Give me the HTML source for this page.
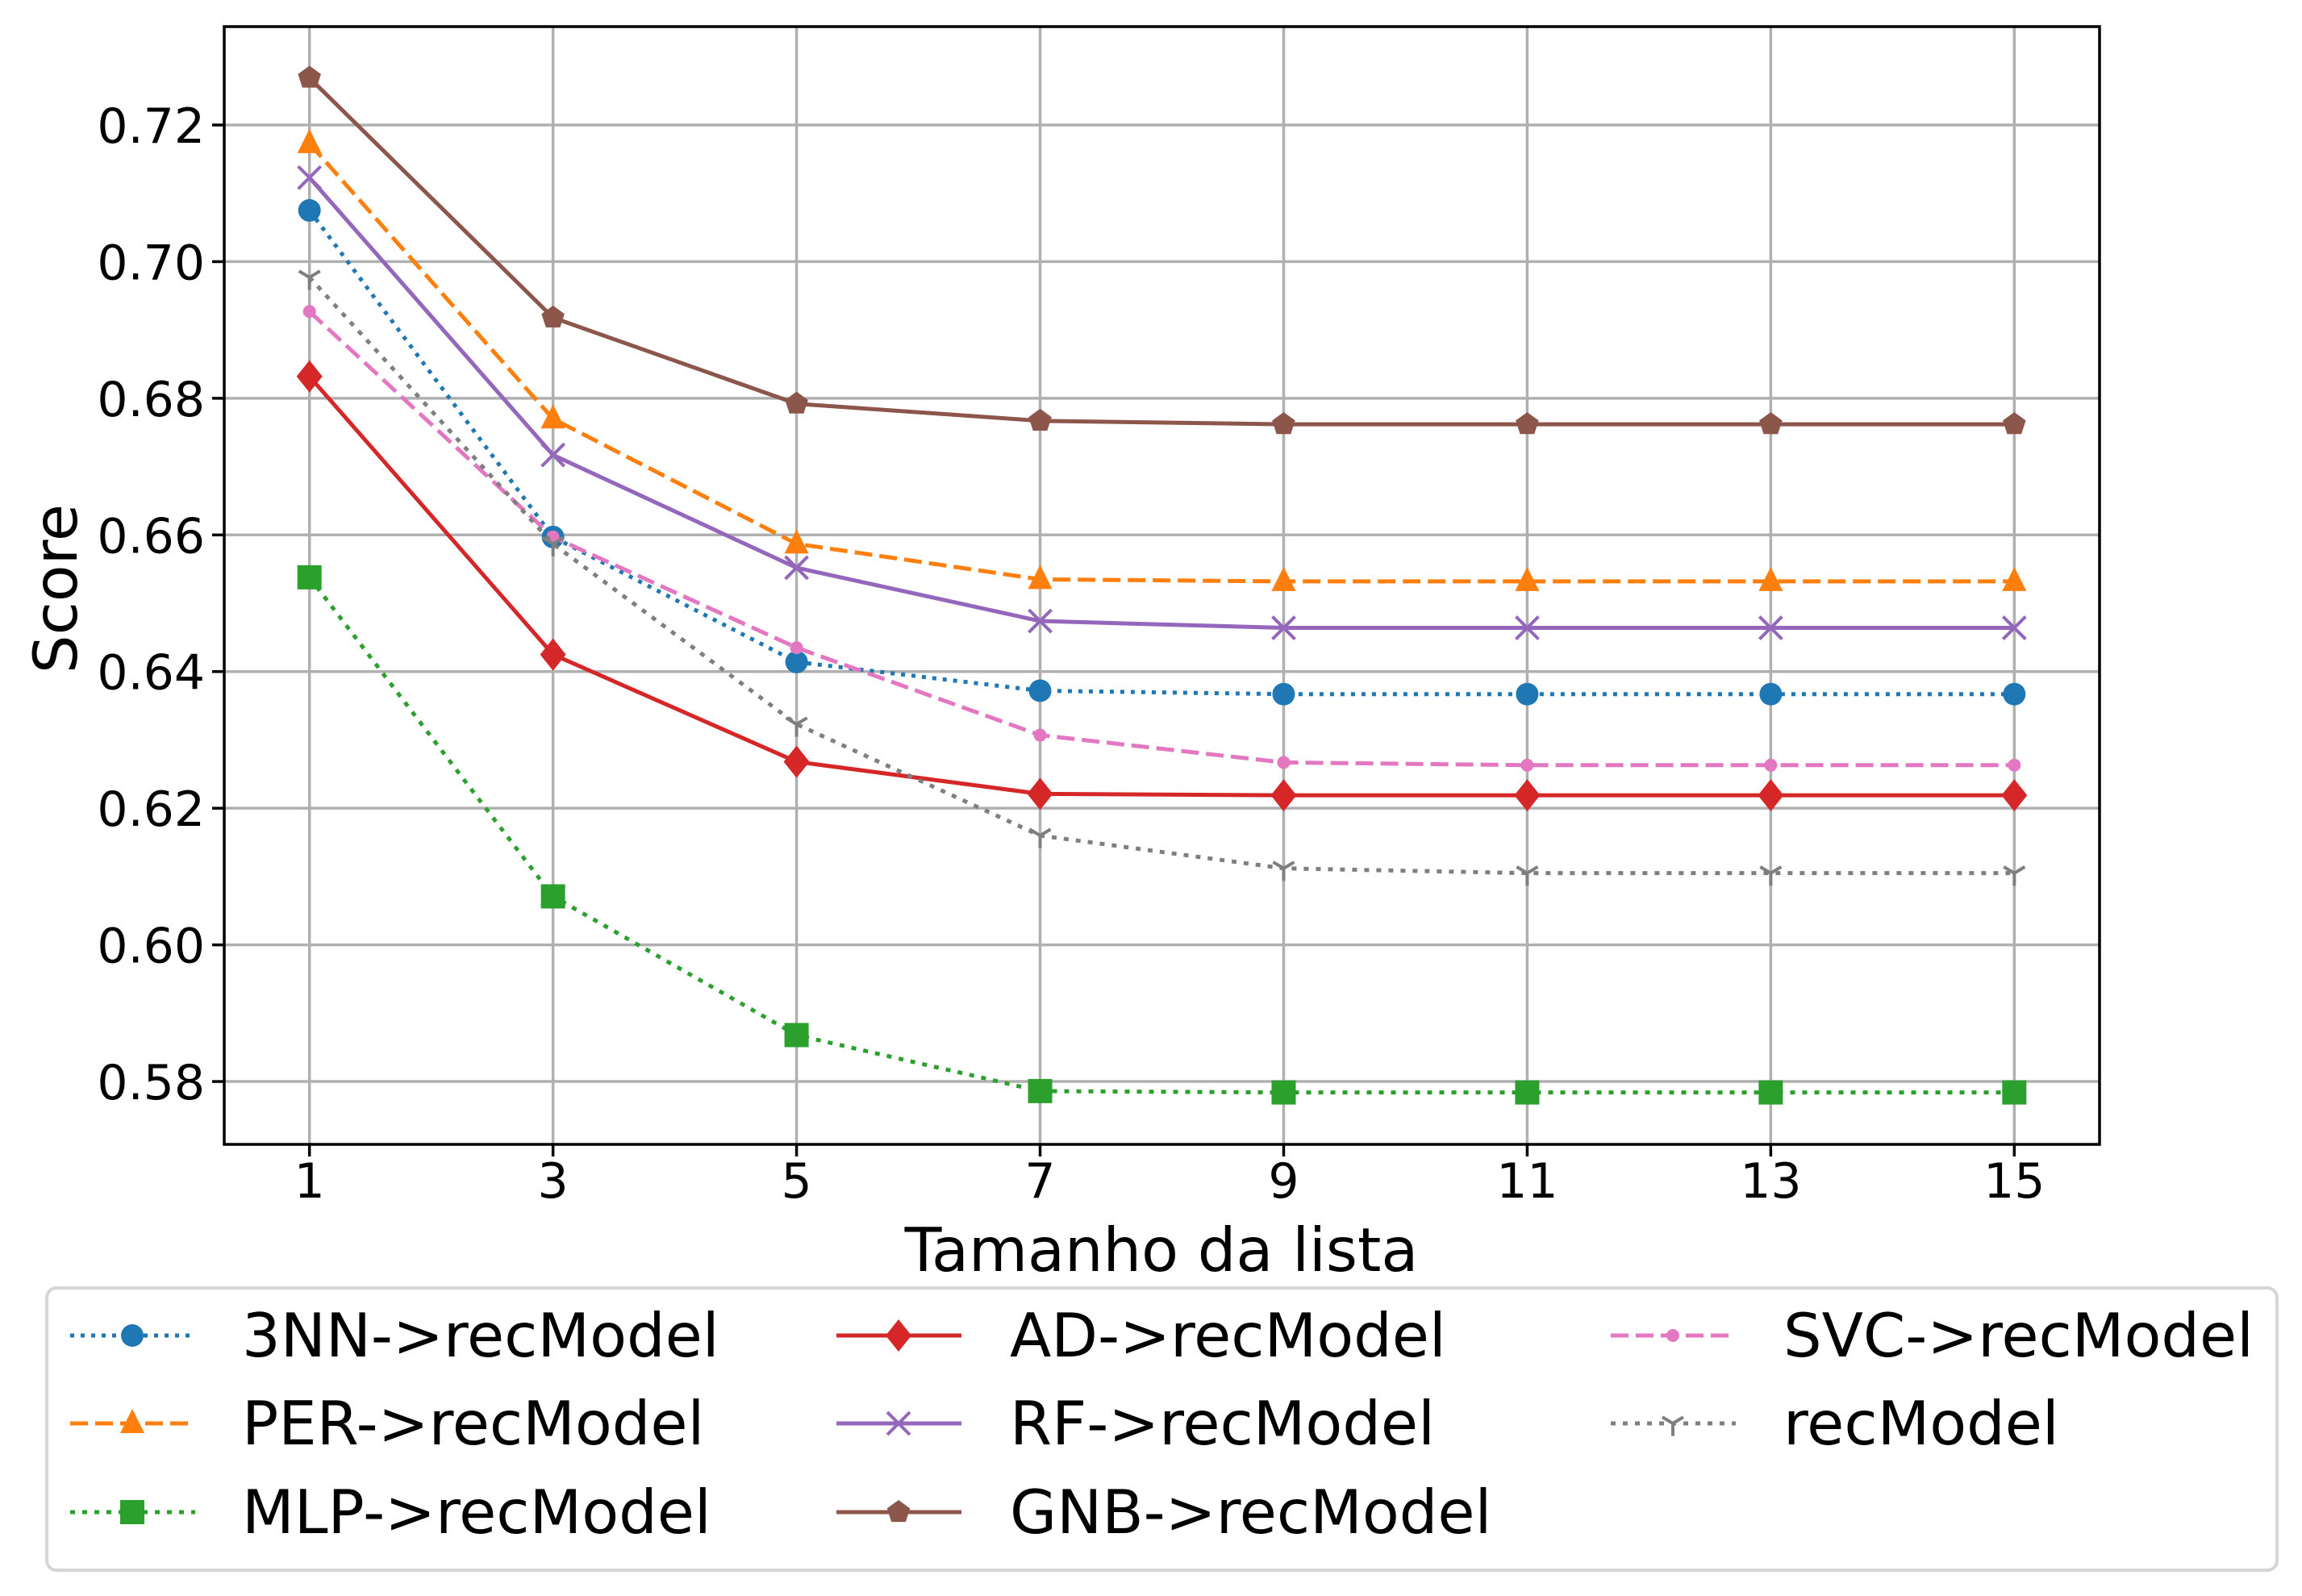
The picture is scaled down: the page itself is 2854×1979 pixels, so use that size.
<!DOCTYPE html>
<html><head><meta charset="utf-8"><style>
html,body{margin:0;padding:0;background:#fff;}
svg{display:block;font-family:"DejaVu Sans","Liberation Sans",sans-serif;}
</style></head><body>
<svg id="chart" width="2854" height="1979" viewBox="0 0 2854 1979" xmlns="http://www.w3.org/2000/svg">
<g id="grid"></g>
<g id="series"></g>
<rect x="278" y="33" width="2325" height="1386" fill="none" stroke="#000" stroke-width="3.5"/>
<g id="ticks"></g>
<text x="1440" y="1576" font-size="75" text-anchor="middle">Tamanho da lista</text>
<text x="95" y="730" font-size="75" text-anchor="middle" transform="rotate(-90 95 730)">Score</text>
<rect x="58" y="1597" width="2765" height="350" rx="12" fill="#fff" stroke="#d5d5d5" stroke-width="4"/>
<g id="legend"></g>
</svg>
<script>
const xCats = [1,3,5,7,9,11,13,15];
const yTicks = [0.58,0.60,0.62,0.64,0.66,0.68,0.70,0.72];
const yTickLabels = ["0.58","0.60","0.62","0.64","0.66","0.68","0.70","0.72"];
const seriesNames = ["3NN->recModel","PER->recModel","MLP->recModel","AD->recModel","RF->recModel","GNB->recModel","SVC->recModel","recModel"];
const v3NN = [0.7075,0.6597,0.6414,0.6372,0.6367,0.6367,0.6367,0.6367];
const vPER = [0.7173,0.6770,0.6587,0.6535,0.6532,0.6532,0.6532,0.6532];
const vMLP = [0.6538,0.6071,0.5868,0.5786,0.5784,0.5784,0.5784,0.5784];
const vAD  = [0.6832,0.6425,0.6268,0.6221,0.6219,0.6219,0.6219,0.6219];
const vRF  = [0.7123,0.6717,0.6552,0.6474,0.6464,0.6464,0.6464,0.6464];
const vGNB = [0.7269,0.6918,0.6792,0.6767,0.6762,0.6762,0.6762,0.6762];
const vSVC = [0.6927,0.6597,0.6435,0.6307,0.6267,0.6263,0.6263,0.6263];
const vRec = [0.6977,0.6587,0.6323,0.6160,0.6112,0.6105,0.6105,0.6105];

const NS="http://www.w3.org/2000/svg";
const L=278,R=2603,T=33,B=1419;
const xMin=0.3,xMax=15.7,yMin=0.5708,yMax=0.7344;
function xs(v){return L+(v-xMin)/(xMax-xMin)*(R-L);}
function ys(v){return B-(v-yMin)/(yMax-yMin)*(B-T);}
function mk(tag,attrs,parent){const e=document.createElementNS(NS,tag);for(const k in attrs)e.setAttribute(k,attrs[k]);parent.appendChild(e);return e;}
const grid=document.getElementById('grid'),ticks=document.getElementById('ticks'),ser=document.getElementById('series'),leg=document.getElementById('legend');

xCats.forEach(c=>{
  const x=xs(c);
  const g=mk('line',{x1:x,x2:x,y1:T,y2:B,stroke:'#b0b0b0','stroke-width':3.5},grid);
  
  
  const t=mk('line',{x1:x,x2:x,y1:B,y2:B+15,stroke:'#000','stroke-width':3.5},ticks);
  
  
  const lb=mk('text',{x:x,y:B+66,'font-size':60,'text-anchor':'middle'},ticks);
  lb.textContent=String(c);
  
  
});
yTicks.forEach((v,i)=>{
  const y=ys(v);
  const g=mk('line',{x1:L,x2:R,y1:y,y2:y,stroke:'#b0b0b0','stroke-width':3.5},grid);
  
  
  const t=mk('line',{x1:L-15,x2:L,y1:y,y2:y,stroke:'#000','stroke-width':3.5},ticks);
  
  
  const lb=mk('text',{x:L-24,y:y+22,'font-size':60,'text-anchor':'end'},ticks);
  lb.textContent=yTickLabels[i];
  
  
});

const styles=[
 {vals:v3NN,color:'#1f77b4',dash:'5,8',m:'circle',ms:14},
 {vals:vPER,color:'#ff7f0e',dash:'22,9',m:'tri',ms:15},
 {vals:vMLP,color:'#2ca02c',dash:'6,9',m:'square',ms:15},
 {vals:vAD,color:'#d62728',dash:'',m:'diamond',ms:20},
 {vals:vRF,color:'#9467bd',dash:'',m:'x',ms:14},
 {vals:vGNB,color:'#8c564b',dash:'',m:'pent',ms:15},
 {vals:vSVC,color:'#e377c2',dash:'22,9',m:'smallcircle',ms:8},
 {vals:vRec,color:'#7f7f7f',dash:'6,9',m:'tri_down',ms:13}
];
function marker(p,s,x,y){
  const c=s.color,r=s.ms;let e;
  if(s.m==='circle'||s.m==='smallcircle') e=mk('circle',{cx:x,cy:y,r:r,fill:c},p);
  else if(s.m==='square') e=mk('rect',{x:x-r,y:y-r,width:2*r,height:2*r,fill:c},p);
  else if(s.m==='tri') e=mk('polygon',{points:`${x},${y-r*1.2} ${x-r},${y+r*0.8} ${x+r},${y+r*0.8}`,fill:c},p);
  else if(s.m==='diamond') e=mk('polygon',{points:`${x},${y-r} ${x+r*0.8},${y} ${x},${y+r} ${x-r*0.8},${y}`,fill:c},p);
  else if(s.m==='pent'){let pts=[];for(let k=0;k<5;k++){const a=-Math.PI/2+k*2*Math.PI/5;pts.push((x+r*Math.cos(a))+','+(y+r*Math.sin(a)));}e=mk('polygon',{points:pts.join(' '),fill:c},p);}
  else if(s.m==='x') e=mk('path',{d:`M${x-r},${y-r}L${x+r},${y+r}M${x-r},${y+r}L${x+r},${y-r}`,stroke:c,'stroke-width':4,fill:'none'},p);
  else if(s.m==='tri_down') e=mk('path',{d:`M${x},${y}L${x},${y+r*1.2}M${x},${y}L${x-r},${y-r*0.6}M${x},${y}L${x+r},${y-r*0.6}`,stroke:c,'stroke-width':4,fill:'none'},p);
  return e;
}
styles.forEach((s,i)=>{
  const g=mk('g',{},ser);
  
  
  const pts=s.vals.map((v,j)=>xs(xCats[j])+','+ys(v)).join(' ');
  const pl=mk('polyline',{points:pts,fill:'none',stroke:s.color,'stroke-width':5,'stroke-dasharray':s.dash,'stroke-linejoin':'round'},g);
  
  
  s.vals.forEach((v,j)=>{
    const m=marker(g,s,xs(xCats[j]),ys(v));
    
    
  });
  const col=Math.floor(i/3),row=i%3;
  const lx=[87,1037,1997][col],ty=[300,1252,2211][col];
  const ly=[1656,1765,1875][row];
  const lg=mk('g',{},leg);
  
  
  mk('line',{x1:lx,x2:lx+155,y1:ly,y2:ly,stroke:s.color,'stroke-width':5,'stroke-dasharray':s.dash},lg);
  marker(lg,s,lx+77,ly);
  const tx=mk('text',{x:ty,y:ly+26,'font-size':75},lg);
  tx.textContent=seriesNames[i];
  
  
});
</script>
</body></html>
